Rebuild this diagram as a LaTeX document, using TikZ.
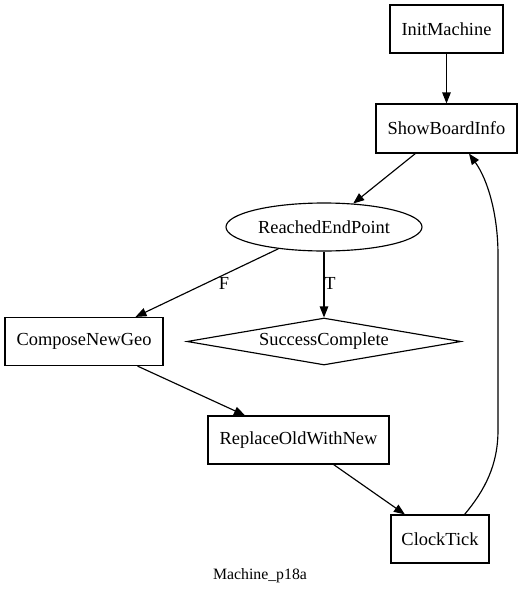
\documentclass[tikz,border=0pt]{standalone}
\usepackage{fontspec}
\setmainfont{Liberation Serif}
\usetikzlibrary{shapes.geometric,arrows.meta}
\begin{document}
\begin{tikzpicture}[x=1pt,y=-1pt,
  every node/.style={font=\fontsize{18.4}{22}\selectfont, inner sep=0pt},
  box/.style={draw, line width=1.15pt, rectangle, minimum height=48pt},
  edge/.style={draw, line width=1.15pt, -{Triangle[length=11pt,width=8.5pt]}},
  lbl/.style={font=\fontsize{18.4}{22}\selectfont}]
\useasboundingbox (0,0) rectangle (521,595);
\node[box, minimum width=113pt] (init) at (446.5,29) {InitMachine};
\node[box, minimum width=141pt, minimum height=49pt] (show) at (446.5,128.5) {ShowBoardInfo};
\node[draw, line width=1.15pt, ellipse, minimum width=196pt, minimum height=48pt] (reached) at (324,227) {ReachedEndPoint};
\node[draw, line width=1.15pt, diamond, aspect=5.8, minimum width=274pt, minimum height=47pt] (success) at (324,341.5) {SuccessComplete};
\node[box, minimum width=158pt] (compose) at (84,341.5) {ComposeNewGeo};
\node[box, minimum width=181pt] (replace) at (298.5,440) {ReplaceOldWithNew};
\node[box, minimum width=98pt] (clock) at (440,539) {ClockTick};
\node[font=\fontsize{15.8}{19}\selectfont] (title) at (260,576) {Machine\_p18a};
\path[edge] (init) -- (show);
\path[edge] (show) -- (reached);
\path[edge] (reached) -- (compose);
\path[edge] (reached) -- (success);
\path[edge] (compose) -- (replace);
\path[edge] (replace) -- (clock);
\coordinate (c1) at (498,430);
\coordinate (c2) at (498,255);
\path[edge] (clock.north east) ++(-25,0) coordinate (cs) (cs) .. controls (485,490) and (498,465) .. (c1) -- (c2) .. controls (498,215) and (488,180) .. (show.south east -| 469,153);
\node[lbl] (flbl) at (224,283) {F};
\node[lbl] (tlbl) at (330,283) {T};
\end{tikzpicture}
\end{document}
